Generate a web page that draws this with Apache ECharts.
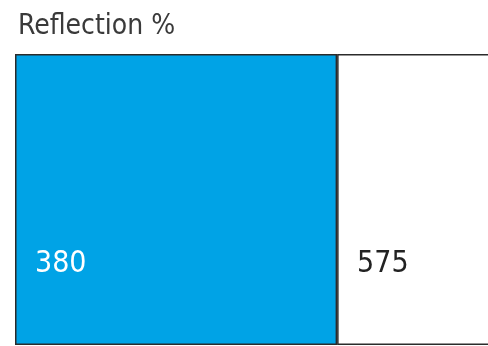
<!DOCTYPE html>
<html><head><meta charset="utf-8">
<style>html,body{margin:0;padding:0;background:#fff}#c{width:488px;height:346px}</style>
<script src="https://cdn.jsdelivr.net/npm/echarts@6/dist/echarts.min.js"></script>
</head><body><div id="c"></div>
<script>
const categories = ['Reflection'];
const seriesNames = ['A', 'B'];
const valuesA = [380];
const valuesB = [575];
const titleText = 'Reflection %';
const font = '"Liberation Sans Narrow","Arial Narrow","DejaVu Sans Condensed",sans-serif';
const chart = echarts.init(document.getElementById('c'));
chart.setOption({
  animation: false,
  title: {text: titleText, left: 13, top: 8, textStyle: {fontFamily: font, fontWeight: 'normal', fontSize: 28, color: '#3a3a3a'}},
  grid: {left: 15, right: 0, top: 54, bottom: 1},
  xAxis: {type: 'value', min: 0, max: 558, show: false},
  yAxis: {type: 'category', data: categories, show: false},
  series: [
    {name: seriesNames[0], type: 'bar', stack: 's', data: valuesA, barWidth: '100%', clip: false,
     itemStyle: {color: '#00A3E6', borderColor: '#2b2b2b', borderWidth: 1.5},
     label: {show: true, position: 'insideLeft', distance: 20, offset: [0, 65], color: '#fff', fontFamily: font, fontSize: 30}},
    {name: seriesNames[1], type: 'bar', stack: 's', data: valuesB, barWidth: '100%', clip: false,
     itemStyle: {color: '#fff', borderColor: '#2b2b2b', borderWidth: 1.5},
     label: {show: true, position: 'insideLeft', distance: 20, offset: [0, 65], color: '#222', fontFamily: font, fontSize: 30}}
  ]
});
</script></body></html>
